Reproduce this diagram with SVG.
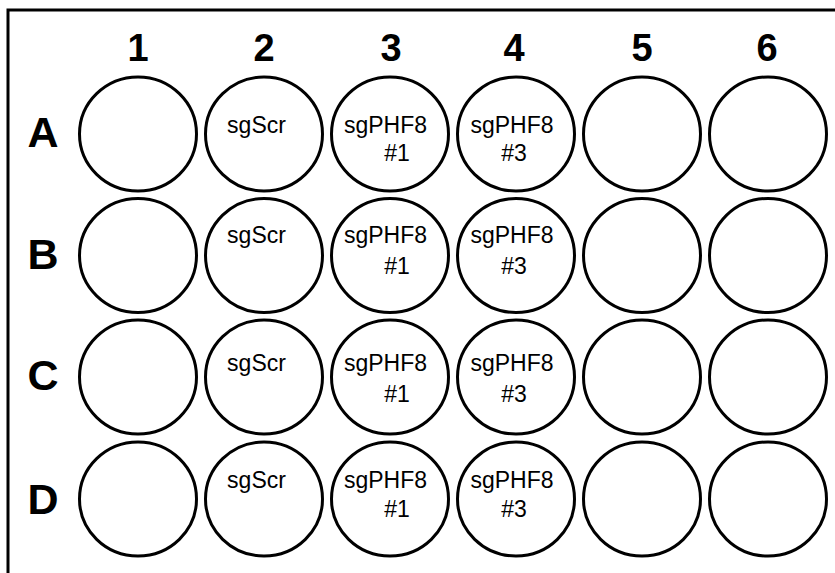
<svg xmlns="http://www.w3.org/2000/svg" width="835" height="573" viewBox="0 0 835 573">
<style>
.frame{fill:none;stroke:#000;stroke-width:3}
.well{fill:#fff;stroke:#000;stroke-width:3}
.col{font-family:"Liberation Sans",Arial,sans-serif;font-weight:bold;font-size:38px;text-anchor:middle;fill:#000}
.row{font-family:"Liberation Sans",Arial,sans-serif;font-weight:bold;font-size:43px;text-anchor:middle;fill:#000}
.lbl{font-family:"Liberation Sans",Arial,sans-serif;font-size:23px;text-anchor:middle;fill:#000}
</style>
<rect width="835" height="573" fill="#fff"/>
<path class="frame" d="M8,573 V10 H835"/>
<g id="col-labels">
<text class="col" x="138" y="61">1</text>
<text class="col" x="264" y="61">2</text>
<text class="col" x="391" y="61">3</text>
<text class="col" x="514" y="61">4</text>
<text class="col" x="642" y="61">5</text>
<text class="col" x="767" y="61">6</text>
</g>
<g id="row-labels">
<text class="row" x="43" y="147">A</text>
<text class="row" x="43" y="269">B</text>
<text class="row" x="43" y="390">C</text>
<text class="row" x="43" y="514">D</text>
</g>
<g id="row-A">
<g id="A1"><ellipse class="well" cx="138" cy="134" rx="58.5" ry="57"/></g>
<g id="A2"><ellipse class="well" cx="264" cy="134" rx="58.5" ry="57"/><text class="lbl" x="256.5" y="133">sgScr</text></g>
<g id="A3"><ellipse class="well" cx="390" cy="134" rx="58.5" ry="57"/><text class="lbl" x="385.5" y="133">sgPHF8</text><text class="lbl" x="397" y="161">#1</text></g>
<g id="A4"><ellipse class="well" cx="516" cy="134" rx="58.5" ry="57"/><text class="lbl" x="512" y="133">sgPHF8</text><text class="lbl" x="514" y="161">#3</text></g>
<g id="A5"><ellipse class="well" cx="642" cy="134" rx="58.5" ry="57"/></g>
<g id="A6"><ellipse class="well" cx="768" cy="134" rx="58.5" ry="57"/></g>
</g>
<g id="row-B">
<g id="B1"><ellipse class="well" cx="138" cy="255.5" rx="58.5" ry="57"/></g>
<g id="B2"><ellipse class="well" cx="264" cy="255.5" rx="58.5" ry="57"/><text class="lbl" x="256.5" y="243">sgScr</text></g>
<g id="B3"><ellipse class="well" cx="390" cy="255.5" rx="58.5" ry="57"/><text class="lbl" x="385.5" y="243">sgPHF8</text><text class="lbl" x="397" y="274">#1</text></g>
<g id="B4"><ellipse class="well" cx="516" cy="255.5" rx="58.5" ry="57"/><text class="lbl" x="512" y="243">sgPHF8</text><text class="lbl" x="514" y="274">#3</text></g>
<g id="B5"><ellipse class="well" cx="642" cy="255.5" rx="58.5" ry="57"/></g>
<g id="B6"><ellipse class="well" cx="768" cy="255.5" rx="58.5" ry="57"/></g>
</g>
<g id="row-C">
<g id="C1"><ellipse class="well" cx="138" cy="377" rx="58.5" ry="57"/></g>
<g id="C2"><ellipse class="well" cx="264" cy="377" rx="58.5" ry="57"/><text class="lbl" x="256.5" y="371">sgScr</text></g>
<g id="C3"><ellipse class="well" cx="390" cy="377" rx="58.5" ry="57"/><text class="lbl" x="385.5" y="371">sgPHF8</text><text class="lbl" x="397" y="402">#1</text></g>
<g id="C4"><ellipse class="well" cx="516" cy="377" rx="58.5" ry="57"/><text class="lbl" x="512" y="371">sgPHF8</text><text class="lbl" x="514" y="402">#3</text></g>
<g id="C5"><ellipse class="well" cx="642" cy="377" rx="58.5" ry="57"/></g>
<g id="C6"><ellipse class="well" cx="768" cy="377" rx="58.5" ry="57"/></g>
</g>
<g id="row-D">
<g id="D1"><ellipse class="well" cx="138" cy="499" rx="58.5" ry="57"/></g>
<g id="D2"><ellipse class="well" cx="264" cy="499" rx="58.5" ry="57"/><text class="lbl" x="256.5" y="488">sgScr</text></g>
<g id="D3"><ellipse class="well" cx="390" cy="499" rx="58.5" ry="57"/><text class="lbl" x="385.5" y="488">sgPHF8</text><text class="lbl" x="397" y="517">#1</text></g>
<g id="D4"><ellipse class="well" cx="516" cy="499" rx="58.5" ry="57"/><text class="lbl" x="512" y="488">sgPHF8</text><text class="lbl" x="514" y="517">#3</text></g>
<g id="D5"><ellipse class="well" cx="642" cy="499" rx="58.5" ry="57"/></g>
<g id="D6"><ellipse class="well" cx="768" cy="499" rx="58.5" ry="57"/></g>
</g>
<g id="connectors"/>
</svg>
